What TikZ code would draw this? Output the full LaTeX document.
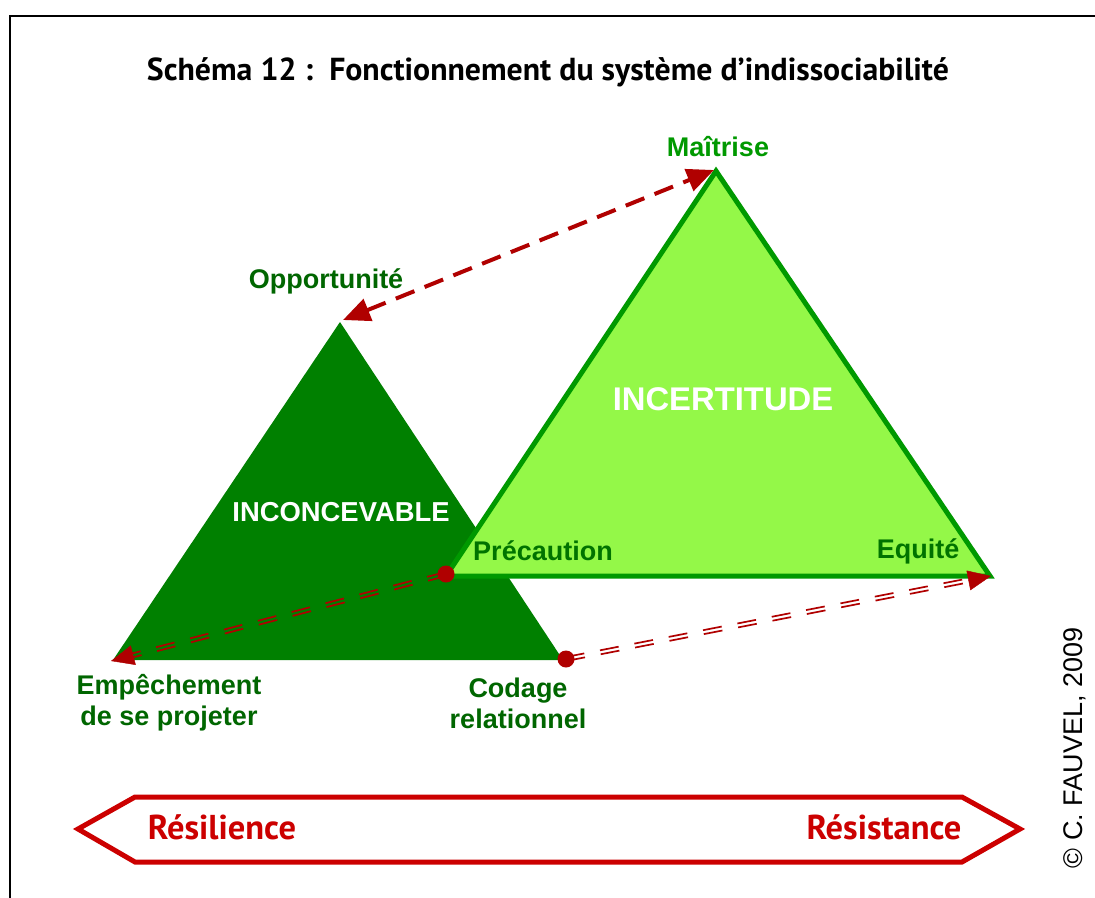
\documentclass[tikz,border=0pt]{standalone}
\usepackage{fontspec}
\setmainfont{Liberation Sans}
\newfontfamily\gill{PT Sans}
\usetikzlibrary{arrows.meta,calc}
\definecolor{darkgr}{RGB}{0,128,0}
\definecolor{lightgr}{RGB}{148,248,72}
\definecolor{bordgr}{RGB}{0,153,0}
\definecolor{lblgr}{RGB}{0,102,0}
\definecolor{lblgrB}{RGB}{0,115,0}
\definecolor{arrred}{RGB}{176,0,0}
\definecolor{banred}{RGB}{204,0,0}
\tikzset{
  lbl/.style={font=\fontsize{27}{31}\selectfont\bfseries, text=lblgr, align=center, inner sep=0pt},
  big/.style={font=\fontsize{32.8}{36}\selectfont\bfseries, text=white, inner sep=0pt},
  ban/.style={font=\gill\fontsize{34.5}{38}\selectfont\bfseries, text=banred, inner sep=0pt},
  dashar/.style={draw=arrred, line width=4pt, dash pattern=on 20pt off 11pt,
     {Triangle[length=27pt,width=23pt]}-{Triangle[length=27pt,width=23pt]}},
  dbl/.style={draw=arrred, line width=1.7pt, dash pattern=on 19pt off 16pt},
  tip/.style={draw=arrred, fill=arrred, line width=0.4pt, -{Triangle[length=23pt,width=20pt]}},
  dot/.style={circle, fill=arrred, minimum size=17pt, inner sep=0pt}
}
\begin{document}
\begin{tikzpicture}[x=1pt,y=-1pt]
\useasboundingbox (0,0) rectangle (1095,897);
\fill[white] (0,0) rectangle (1095,897);
% frame
\draw[line width=2pt] (10,900) -- (10,16) -- (1100,16);
% title
\node[font=\gill\fontsize{31.8}{36}\selectfont\bfseries, inner sep=0pt] (title) at (548,72) {Schéma 12 :\ \ Fonctionnement du système d’indissociabilité};
% dark triangle
\coordinate (Oa) at (340,322);
\coordinate (Ea) at (113,660);
\coordinate (Ca) at (563,660);
\fill[darkgr] (Oa) -- (Ea) -- (Ca) -- cycle;
% light triangle
\coordinate (Ma) at (716,171);
\coordinate (Pa) at (446,576);
\coordinate (Qa) at (990,576);
\filldraw[fill=lightgr, draw=bordgr, line width=5pt, line join=miter] (Ma) -- (Pa) -- (Qa) -- cycle;
% texts
\node[big] (inc) at (723,399) {INCERTITUDE};
\node[big, font=\fontsize{27.4}{31}\selectfont\bfseries] (inconc) at (341,512) {INCONCEVABLE};
\node[lbl, text=bordgr] (mait) at (718,147) {Maîtrise};
\node[lbl] (opp) at (326,281) {Opportunité};
\node[lbl, text=lblgrB] (prec) at (543,551) {Précaution};
\node[lbl, text=lblgrB] (equi) at (918,551) {Equité};
\node[lbl] (emp) at (169,703) {Empêchement\\de se projeter};
\node[lbl] (cod) at (518,703) {Codage\\relationnel};
% dashed double-headed arrow
\draw[dashar] (343,320) -- (714,170);
% double dashed arrows (two parallel dashed lines)
\coordinate (sP) at (446,574);
\coordinate (sC) at (566,659);
\coordinate (tE) at (111,661);
\coordinate (tQ) at (991,576);
\coordinate (eE) at ($(tE)!18pt!(sP)$);
\coordinate (eQ) at ($(tQ)!18pt!(sC)$);
\draw[dbl] ($(sP)!2pt!90:(eE)$) -- ($(eE)!2pt!-90:(sP)$);
\draw[dbl] ($(sP)!2pt!-90:(eE)$) -- ($(eE)!2pt!90:(sP)$);
\draw[dbl] ($(sC)!2pt!90:(eQ)$) -- ($(eQ)!2pt!-90:(sC)$);
\draw[dbl] ($(sC)!2pt!-90:(eQ)$) -- ($(eQ)!2pt!90:(sC)$);
\draw[tip] ($(tE)!23pt!(sP)$) -- (tE);
\draw[tip] ($(tQ)!23pt!(sC)$) -- (tQ);
\node[dot] (dP) at (sP) {};
\node[dot] (dC) at (sC) {};
% banner
\draw[banred, line width=5pt, line join=miter] (78,829) -- (135,797) -- (962,797) -- (1020,829) -- (962,862) -- (135,862) -- cycle;
\node[ban] (resil) at (222,827) {Résilience};
\node[ban] (resis) at (884,827) {Résistance};
% copyright
\node[rotate=90, font=\fontsize{27}{31}\selectfont, inner sep=0pt] (copy) at (1075,748) {© C. FAUVEL, 2009};
\end{tikzpicture}
\end{document}
